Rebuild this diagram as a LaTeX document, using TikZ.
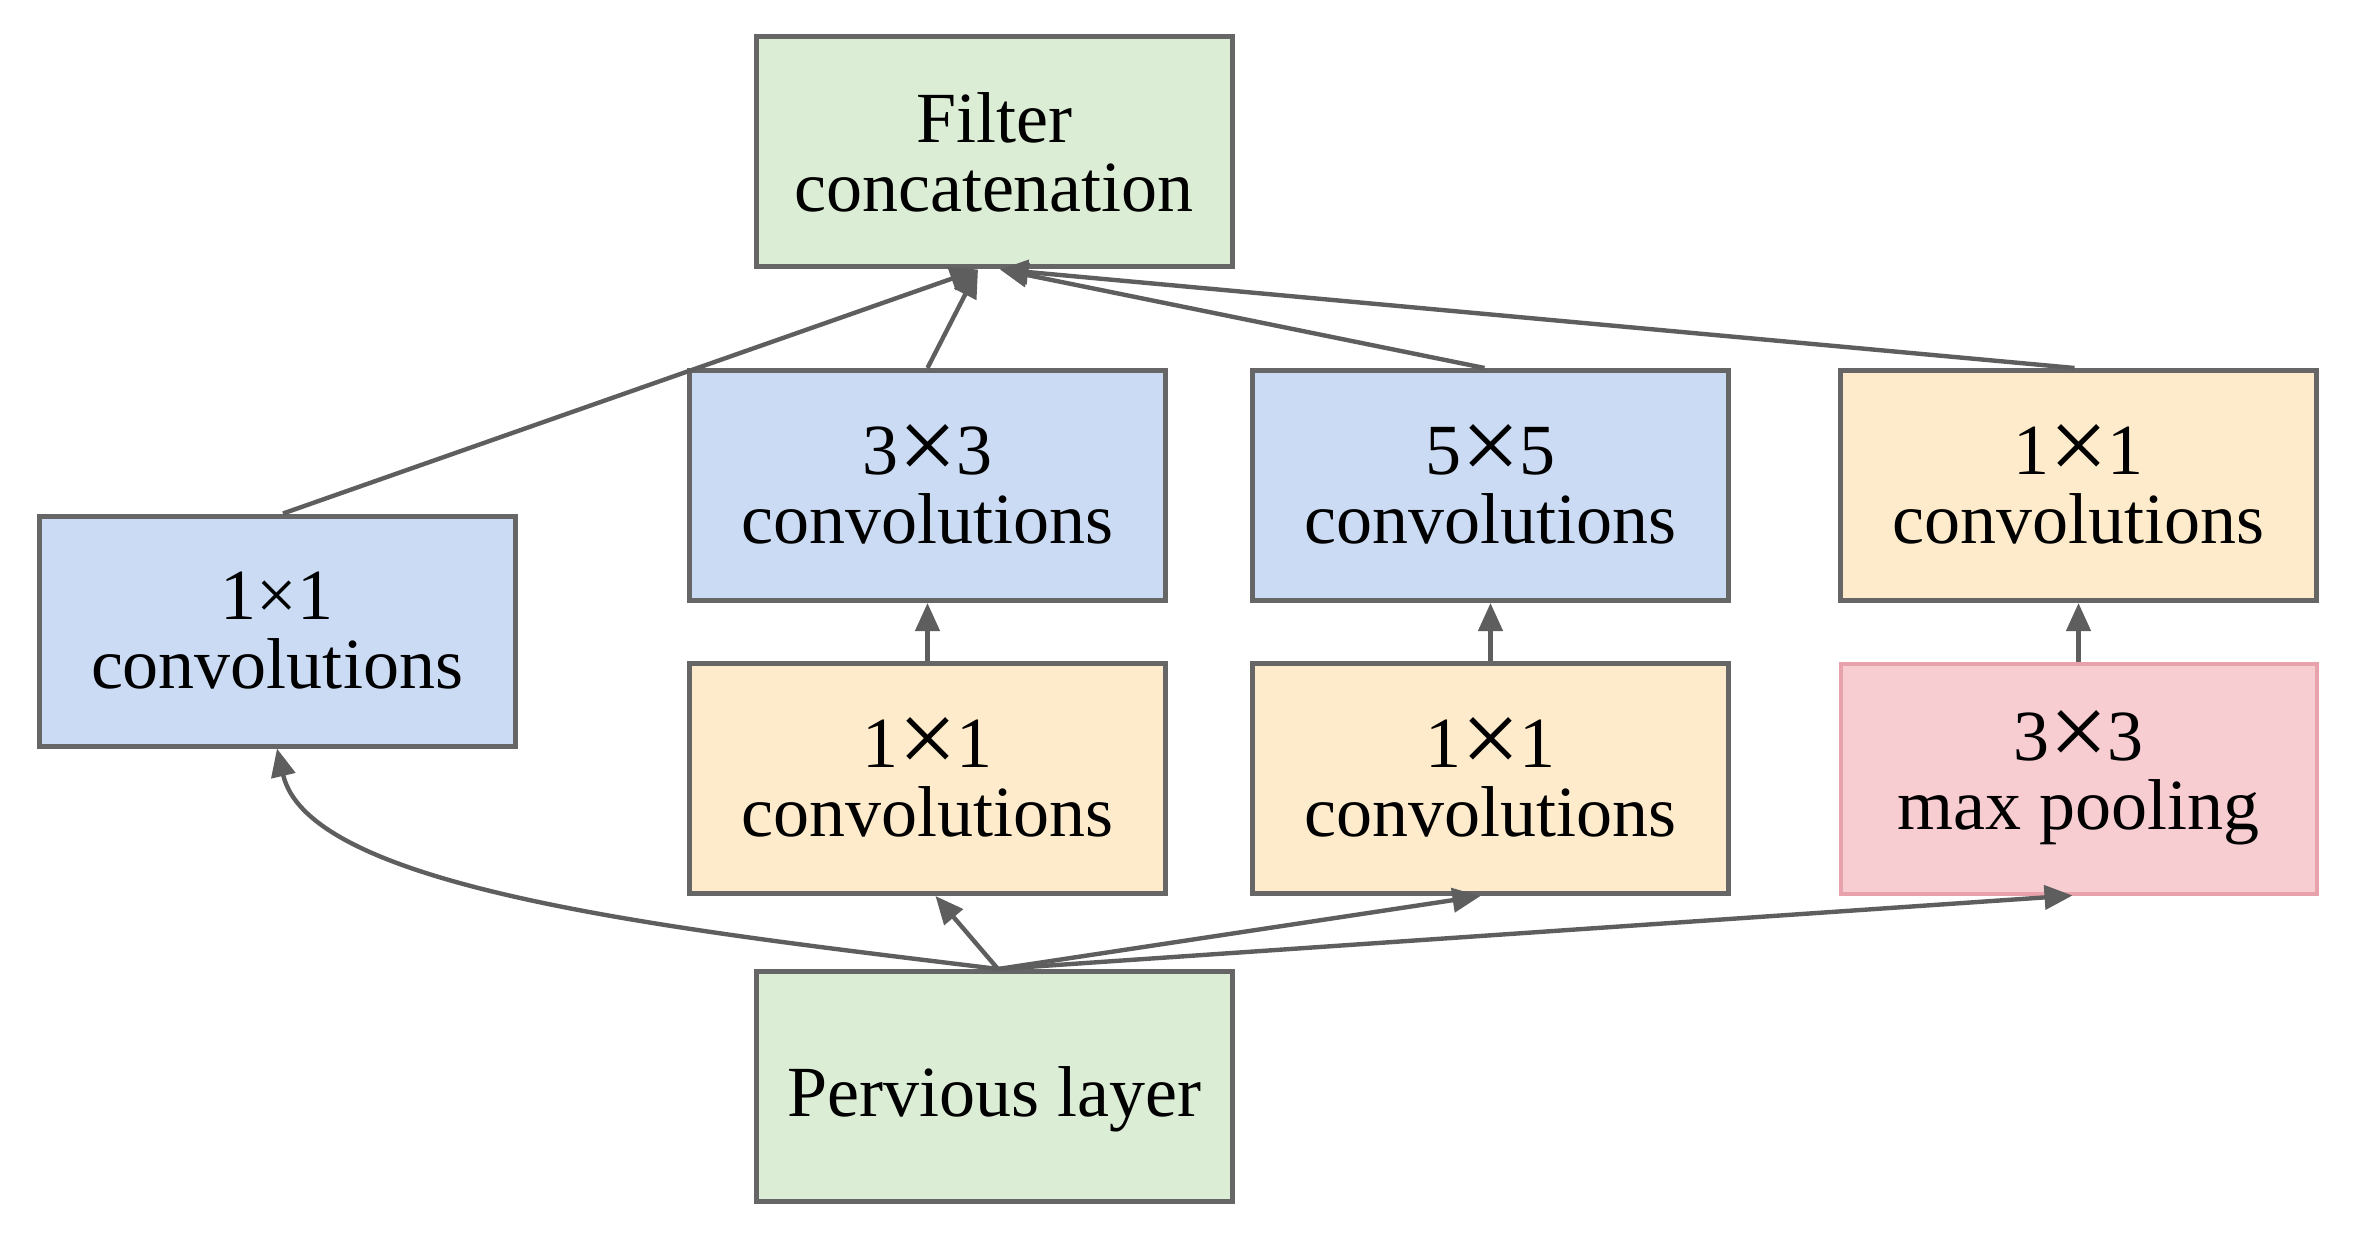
\documentclass[tikz,border=0pt]{standalone}
\usepackage{fontspec}
\setmainfont{Liberation Serif}
\usepackage{graphicx}
\usetikzlibrary{arrows.meta}
\definecolor{gfill}{HTML}{DCEDD5}
\definecolor{bfill}{HTML}{CBDBF3}
\definecolor{ofill}{HTML}{FDEBCB}
\definecolor{pfill}{HTML}{F7CDD2}
\definecolor{pbord}{HTML}{E8A2AC}
\definecolor{bordc}{HTML}{666666}
\definecolor{linec}{HTML}{5E5E5E}
\newcommand{\bigx}{\raisebox{-3pt}[0.62em][0pt]{\scalebox{1.45}{×}}}
\begin{document}
\begin{tikzpicture}[x=0.5pt,y=-0.5pt,
  box/.style={draw=bordc, line width=2.5pt, minimum width=238pt, minimum height=115pt,
    inner sep=0pt, align=center, font=\fontsize{36}{34.5}\selectfont},
  arr/.style={draw=linec, line width=2.2pt, -{Triangle[length=14pt,width=12pt]}}]
\useasboundingbox (0,0) rectangle (2357,1241);
\fill[white] (0,0) rectangle (2357,1241);
\node[box, fill=gfill] (filt) at (994,152) {Filter\\concatenation};
\node[box, fill=bfill] (c1) at (277,631) {1×1\\convolutions};
\node[box, fill=bfill] (b3) at (927.5,485.5) {3\bigx3\\convolutions};
\node[box, fill=bfill] (b5) at (1490.5,485.5) {5\bigx5\\convolutions};
\node[box, fill=ofill] (o4) at (2078.5,485.5) {1\bigx1\\convolutions};
\node[box, fill=ofill] (o1) at (927.5,778.5) {1\bigx1\\convolutions};
\node[box, fill=ofill] (o2) at (1490.5,778.5) {1\bigx1\\convolutions};
\node[box, fill=pfill, draw=pbord, line width=2pt] (pool) at (2078.5,778.5) {3\bigx3\\max pooling};
\node[box, fill=gfill] (prev) at (994,1086.5) {\raisebox{-6.5pt}[\height][\depth]{Pervious layer}};
% to filter concatenation
\draw[arr] ([xshift=3pt]c1.north) -- ([xshift=-8pt]filt.south);
\draw[arr] (b3.north) -- ([xshift=-8pt]filt.south);
\draw[arr] ([xshift=-3pt]b5.north) -- ([xshift=3pt]filt.south);
\draw[arr] ([xshift=-2pt]o4.north) -- ([xshift=3pt]filt.south);
% vertical
\draw[arr] (o1.north) -- (b3.south);
\draw[arr] (o2.north) -- (b5.south);
\draw[arr] (pool.north) -- (o4.south);
% from previous layer
\draw[arr] ([xshift=2pt]prev.north) .. controls (680,930) and (310,890) .. (c1.south);
\draw[arr] ([xshift=2pt]prev.north) -- ([xshift=4pt]o1.south);
\draw[arr] ([xshift=2pt]prev.north) -- ([xshift=-5pt]o2.south);
\draw[arr] ([xshift=2pt]prev.north) -- ([xshift=-3pt]pool.south);
\end{tikzpicture}
\end{document}
